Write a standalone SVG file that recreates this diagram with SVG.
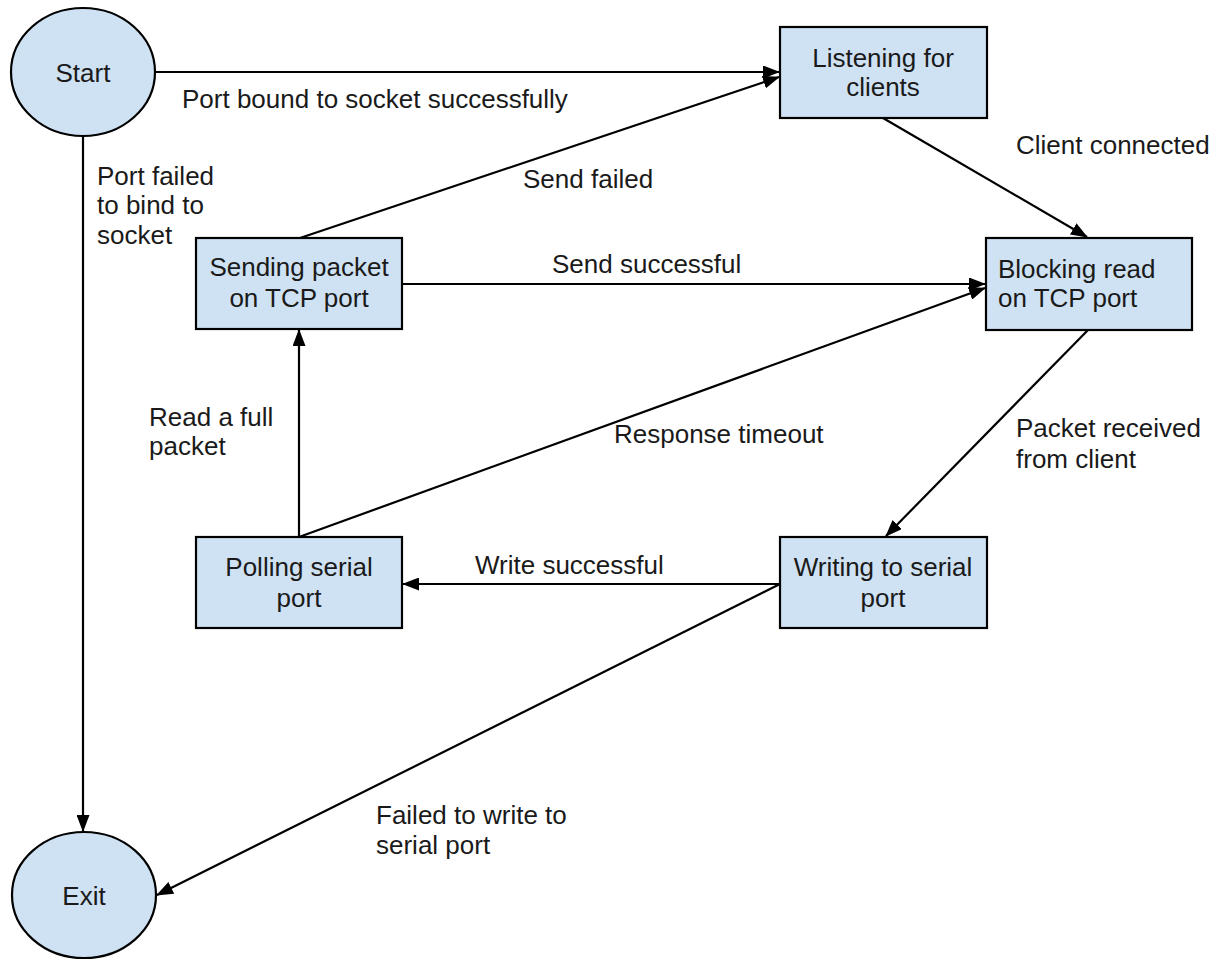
<svg xmlns="http://www.w3.org/2000/svg" width="1209" height="960" viewBox="0 0 1209 960">
  <style>
    .node { fill: #cfe2f3; stroke: #000; stroke-width: 2.2; }
    .edge { fill: none; stroke: #000; stroke-width: 2.2; marker-end: url(#arrow); }
    text { font-family: "Liberation Sans", Arial, sans-serif; font-size: 26px; fill: #1a1a1a; }
    .c { text-anchor: middle; }
  </style>
  <defs>
    <marker id="arrow" markerUnits="userSpaceOnUse" markerWidth="17" markerHeight="13" viewBox="0 0 17 13" refX="16" refY="6.5" orient="auto">
      <path d="M0,0 L17,6.5 L0,13 Z" fill="#000"/>
    </marker>
  </defs>

  <!-- connectors -->
  <g id="connectors">
    <line class="edge" x1="155" y1="72" x2="779" y2="72"/>
    <line class="edge" x1="300" y1="238" x2="779" y2="77"/>
    <line class="edge" x1="883" y1="118" x2="1087" y2="237"/>
    <line class="edge" x1="402" y1="284" x2="985" y2="284"/>
    <line class="edge" x1="299" y1="537" x2="985" y2="288"/>
    <line class="edge" x1="299" y1="537" x2="299" y2="330"/>
    <line class="edge" x1="1088" y1="330" x2="886" y2="536"/>
    <line class="edge" x1="780" y1="584" x2="403" y2="584"/>
    <line class="edge" x1="780" y1="584" x2="157" y2="895"/>
    <line class="edge" x1="83" y1="136" x2="83" y2="831"/>

    <text x="182" y="108">Port bound to socket successfully</text>
    <text x="97" y="185">Port failed</text>
    <text x="97" y="214">to bind to</text>
    <text x="97" y="244">socket</text>
    <text x="523" y="188">Send failed</text>
    <text x="1016" y="154">Client connected</text>
    <text x="552" y="273">Send successful</text>
    <text x="149" y="426">Read a full</text>
    <text x="149" y="455">packet</text>
    <text x="614" y="443">Response timeout</text>
    <text x="1016" y="437">Packet received</text>
    <text x="1016" y="468">from client</text>
    <text x="475" y="574">Write successful</text>
    <text x="376" y="824">Failed to write to</text>
    <text x="376" y="854">serial port</text>
  </g>

  <g id="start">
    <ellipse class="node" cx="83" cy="72" rx="72" ry="64"/>
    <text class="c" x="83" y="82">Start</text>
  </g>

  <g id="exit">
    <ellipse class="node" cx="84" cy="895" rx="72" ry="63"/>
    <text class="c" x="84" y="905">Exit</text>
  </g>

  <g id="listening">
    <rect class="node" x="780" y="27" width="207" height="91"/>
    <text class="c" x="883" y="67">Listening for</text>
    <text class="c" x="883" y="96">clients</text>
  </g>

  <g id="blocking-read">
    <rect class="node" x="986" y="238" width="206" height="92"/>
    <text x="998" y="278">Blocking read</text>
    <text x="998" y="307">on TCP port</text>
  </g>

  <g id="sending-packet">
    <rect class="node" x="196" y="238" width="206" height="91"/>
    <text class="c" x="299" y="276">Sending packet</text>
    <text class="c" x="299" y="307">on TCP port</text>
  </g>

  <g id="polling-serial">
    <rect class="node" x="196" y="537" width="206" height="91"/>
    <text class="c" x="299" y="576">Polling serial</text>
    <text class="c" x="299" y="607">port</text>
  </g>

  <g id="writing-serial">
    <rect class="node" x="780" y="537" width="207" height="91"/>
    <text class="c" x="883" y="576">Writing to serial</text>
    <text class="c" x="883" y="607">port</text>
  </g>
</svg>
